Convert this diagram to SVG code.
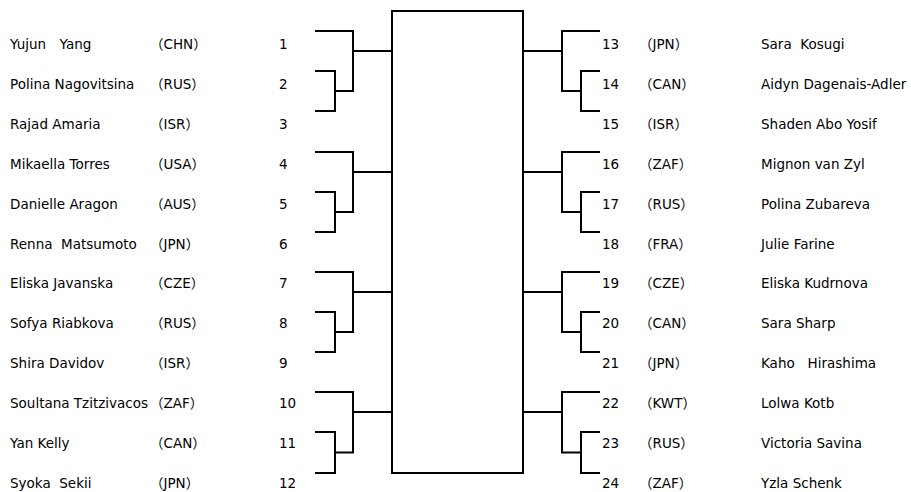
<svg xmlns="http://www.w3.org/2000/svg" width="911" height="492" viewBox="0 0 911 492">
<style>
text{font-family:"DejaVu Sans","Noto Sans CJK JP",sans-serif;font-size:13.5px;fill:#000;white-space:pre}
.ln{fill:none;stroke:#000;stroke-width:2;stroke-linejoin:miter;stroke-linecap:butt}
</style>
<rect width="911" height="492" fill="#fff"/>
<g id="box"><rect class="ln" x="392" y="11" width="131" height="462"/></g>
<g id="connectors">
<path class="ln" d="M315,31 H353 V91 H335 M315,71 H335 V111 H315 M353,51 H392"/>
<path class="ln" d="M315,152 H353 V212 H335 M315,192 H335 V232 H315 M353,172 H392"/>
<path class="ln" d="M315,272 H353 V332 H335 M315,312 H335 V352 H315 M353,292 H392"/>
<path class="ln" d="M315,392 H353 V452.5 H335 M315,432 H335 V473 H315 M353,412 H392"/>
<path class="ln" d="M600,31 H562 V91 H581 M600,71 H581 V111 H600 M523,51 H562"/>
<path class="ln" d="M600,152 H562 V212 H581 M600,192 H581 V232 H600 M523,172 H562"/>
<path class="ln" d="M600,272 H562 V332 H581 M600,312 H581 V352 H600 M523,292 H562"/>
<path class="ln" d="M600,392 H562 V452.5 H581 M600,432 H581 V473 H600 M523,412 H562"/>
</g>
<g id="p1"><text x="10" y="49">Yujun　Yang</text><text x="150" y="49">（CHN）</text><text x="279" y="49">1</text></g>
<g id="p2"><text x="10" y="89">Polina Nagovitsina</text><text x="150" y="89">（RUS）</text><text x="279" y="89">2</text></g>
<g id="p3"><text x="10" y="129">Rajad Amaria</text><text x="150" y="129">（ISR）</text><text x="279" y="129">3</text></g>
<g id="p4"><text x="10" y="169">Mikaella Torres</text><text x="150" y="169">（USA）</text><text x="279" y="169">4</text></g>
<g id="p5"><text x="10" y="209">Danielle Aragon</text><text x="150" y="209">（AUS）</text><text x="279" y="209">5</text></g>
<g id="p6"><text x="10" y="248.5">Renna  Matsumoto</text><text x="150" y="248.5">（JPN）</text><text x="279" y="248.5">6</text></g>
<g id="p7"><text x="10" y="288">Eliska Javanska</text><text x="150" y="288">（CZE）</text><text x="279" y="288">7</text></g>
<g id="p8"><text x="10" y="328">Sofya Riabkova</text><text x="150" y="328">（RUS）</text><text x="279" y="328">8</text></g>
<g id="p9"><text x="10" y="368">Shira Davidov</text><text x="150" y="368">（ISR）</text><text x="279" y="368">9</text></g>
<g id="p10"><text x="10" y="408">Soultana Tzitzivacos</text><text x="150" y="408">（ZAF）</text><text x="279" y="408">10</text></g>
<g id="p11"><text x="10" y="448">Yan Kelly</text><text x="150" y="448">（CAN）</text><text x="279" y="448">11</text></g>
<g id="p12"><text x="10" y="487.5">Syoka  Sekii</text><text x="150" y="487.5">（JPN）</text><text x="279" y="487.5">12</text></g>
<g id="p13"><text x="602" y="49">13</text><text x="639" y="49">（JPN）</text><text x="761" y="49">Sara  Kosugi</text></g>
<g id="p14"><text x="602" y="89">14</text><text x="639" y="89">（CAN）</text><text x="761" y="89">Aidyn Dagenais-Adler</text></g>
<g id="p15"><text x="602" y="129">15</text><text x="639" y="129">（ISR）</text><text x="761" y="129">Shaden Abo Yosif</text></g>
<g id="p16"><text x="602" y="169">16</text><text x="639" y="169">（ZAF）</text><text x="761" y="169">Mignon van Zyl</text></g>
<g id="p17"><text x="602" y="209">17</text><text x="639" y="209">（RUS）</text><text x="761" y="209">Polina Zubareva</text></g>
<g id="p18"><text x="602" y="248.5">18</text><text x="639" y="248.5">（FRA）</text><text x="761" y="248.5">Julie Farine</text></g>
<g id="p19"><text x="602" y="288">19</text><text x="639" y="288">（CZE）</text><text x="761" y="288">Eliska Kudrnova</text></g>
<g id="p20"><text x="602" y="328">20</text><text x="639" y="328">（CAN）</text><text x="761" y="328">Sara Sharp</text></g>
<g id="p21"><text x="602" y="368">21</text><text x="639" y="368">（JPN）</text><text x="761" y="368">Kaho   Hirashima</text></g>
<g id="p22"><text x="602" y="408">22</text><text x="639" y="408">（KWT）</text><text x="761" y="408">Lolwa Kotb</text></g>
<g id="p23"><text x="602" y="448">23</text><text x="639" y="448">（RUS）</text><text x="761" y="448">Victoria Savina</text></g>
<g id="p24"><text x="602" y="487.5">24</text><text x="639" y="487.5">（ZAF）</text><text x="761" y="487.5">Yzla Schenk</text></g>
</svg>
